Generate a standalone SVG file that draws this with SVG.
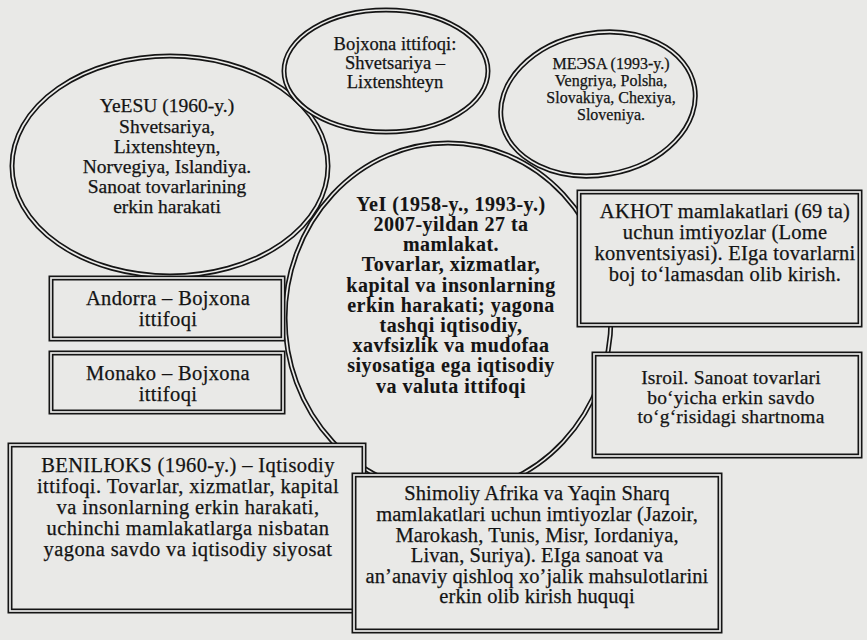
<svg xmlns="http://www.w3.org/2000/svg" width="867" height="640" viewBox="0 0 867 640">
<style>
.bg{fill:#e9e9e7}
.ol{fill:none;stroke:#151515;stroke-width:5}
.gap{fill:none;stroke:#ececea;stroke-width:1.7}
.bx{fill:#e9e9e7;stroke:#151515;stroke-width:5}
text{font-family:"Liberation Serif","Times New Roman",serif;fill:#141414;stroke:#141414;stroke-width:0.25;text-anchor:middle}
.b{font-weight:bold;font-size:20px;letter-spacing:0.5px;stroke-width:0.1}
.s16{font-size:16px}
.s18{font-size:18.5px}
.s19{font-size:19.5px}
.s20{font-size:20.5px;letter-spacing:0.25px}
</style>
<rect class="bg" x="0" y="0" width="867" height="640"/>

<g id="yei">
<ellipse class="ol" cx="448" cy="318" rx="163" ry="175"/>
<ellipse class="gap" cx="448" cy="318" rx="163" ry="175"/>
</g>
<g id="yeesu">
<ellipse class="ol" cx="170" cy="166" rx="158" ry="110"/>
<ellipse class="gap" cx="170" cy="166" rx="158" ry="110"/>
<text class="s19"><tspan x="167" y="112">YeESU (1960-y.)</tspan><tspan x="167" y="133">Shvetsariya,</tspan><tspan x="167" y="153">Lixtenshteyn,</tspan><tspan x="167" y="173">Norvegiya, Islandiya.</tspan><tspan x="167" y="193">Sanoat tovarlarining</tspan><tspan x="167" y="213">erkin harakati</tspan></text>
</g>
<g id="bojxona">
<ellipse class="ol" cx="386" cy="71" rx="102" ry="61"/>
<ellipse class="gap" cx="386" cy="71" rx="102" ry="61"/>
<text class="s18"><tspan x="395" y="50">Bojxona ittifoqi:</tspan><tspan x="395" y="69">Shvetsariya –</tspan><tspan x="395" y="88">Lixtenshteyn</tspan></text>
</g>
<g id="meesa">
<ellipse class="ol" cx="598" cy="104" rx="98" ry="71" transform="rotate(-10 598 104)"/>
<ellipse class="gap" cx="598" cy="104" rx="98" ry="71" transform="rotate(-10 598 104)"/>
<text class="s16"><tspan x="611" y="69">MEЭSA (1993-y.)</tspan><tspan x="611" y="86">Vengriya, Polsha,</tspan><tspan x="611" y="103">Slovakiya, Chexiya,</tspan><tspan x="611" y="120">Sloveniya.</tspan></text>
</g>
<g id="yei-text">
<text class="b"><tspan x="451" y="211">YeI (1958-y., 1993-y.)</tspan><tspan x="451" y="231">2007-yildan 27 ta</tspan><tspan x="451" y="251">mamlakat.</tspan><tspan x="451" y="271">Tovarlar, xizmatlar,</tspan><tspan x="451" y="292">kapital va insonlarning</tspan><tspan x="451" y="312">erkin harakati; yagona</tspan><tspan x="451" y="332">tashqi iqtisodiy,</tspan><tspan x="451" y="352">xavfsizlik va mudofaa</tspan><tspan x="451" y="372">siyosatiga ega iqtisodiy</tspan><tspan x="451" y="393">va valuta ittifoqi</tspan></text>
</g>

<g id="connectors"></g>

<g id="akhot">
<rect class="bx" x="579" y="192" width="281" height="133"/>
<rect class="gap" x="579" y="192" width="281" height="133"/>
<text class="s20"><tspan x="725" y="218">AKHOT mamlakatlari (69 ta)</tspan><tspan x="725" y="239">uchun imtiyozlar (Lome</tspan><tspan x="725" y="260">konventsiyasi). EIga tovarlarni</tspan><tspan x="725" y="281">boj to‘lamasdan olib kirish.</tspan></text>
</g>
<g id="isroil">
<rect class="bx" x="594" y="354" width="266" height="102"/>
<rect class="gap" x="594" y="354" width="266" height="102"/>
<text class="s19" style="letter-spacing:0.2px"><tspan x="731" y="384">Isroil. Sanoat tovarlari</tspan><tspan x="731" y="403.5">bo‘yicha erkin savdo</tspan><tspan x="731" y="423">to‘g‘risidagi shartnoma</tspan></text>
</g>
<g id="andorra">
<rect class="bx" x="51" y="278" width="232" height="61"/>
<rect class="gap" x="51" y="278" width="232" height="61"/>
<text class="s20" style="letter-spacing:0.35px"><tspan x="168" y="305">Andorra – Bojxona</tspan><tspan x="168" y="326">ittifoqi</tspan></text>
</g>
<g id="monako">
<rect class="bx" x="51" y="353" width="232" height="59"/>
<rect class="gap" x="51" y="353" width="232" height="59"/>
<text class="s20" style="letter-spacing:0.35px"><tspan x="168" y="380">Monako – Bojxona</tspan><tspan x="168" y="401">ittifoqi</tspan></text>
</g>
<g id="benilyuks">
<rect class="bx" x="10" y="445" width="354" height="166"/>
<rect class="gap" x="10" y="445" width="354" height="166"/>
<text class="s20" style="letter-spacing:0.4px"><tspan x="188" y="472">BENILЮKS (1960-y.) – Iqtisodiy</tspan><tspan x="188" y="493">ittifoqi. Tovarlar, xizmatlar, kapital</tspan><tspan x="188" y="514">va insonlarning erkin harakati,</tspan><tspan x="188" y="535">uchinchi mamlakatlarga nisbatan</tspan><tspan x="188" y="556">yagona savdo va iqtisodiy siyosat</tspan></text>
</g>
<g id="shimoliy">
<rect class="bx" x="354" y="475" width="366" height="156"/>
<rect class="gap" x="354" y="475" width="366" height="156"/>
<text class="s20" style="letter-spacing:0.1px"><tspan x="537" y="500">Shimoliy Afrika va Yaqin Sharq</tspan><tspan x="537" y="521">mamlakatlari uchun imtiyozlar (Jazoir,</tspan><tspan x="537" y="541.5">Marokash, Tunis, Misr, Iordaniya,</tspan><tspan x="537" y="562">Livan, Suriya). EIga sanoat va</tspan><tspan x="537" y="582.5">an’anaviy qishloq xo’jalik mahsulotlarini</tspan><tspan x="537" y="603">erkin olib kirish huquqi</tspan></text>
</g>
</svg>
